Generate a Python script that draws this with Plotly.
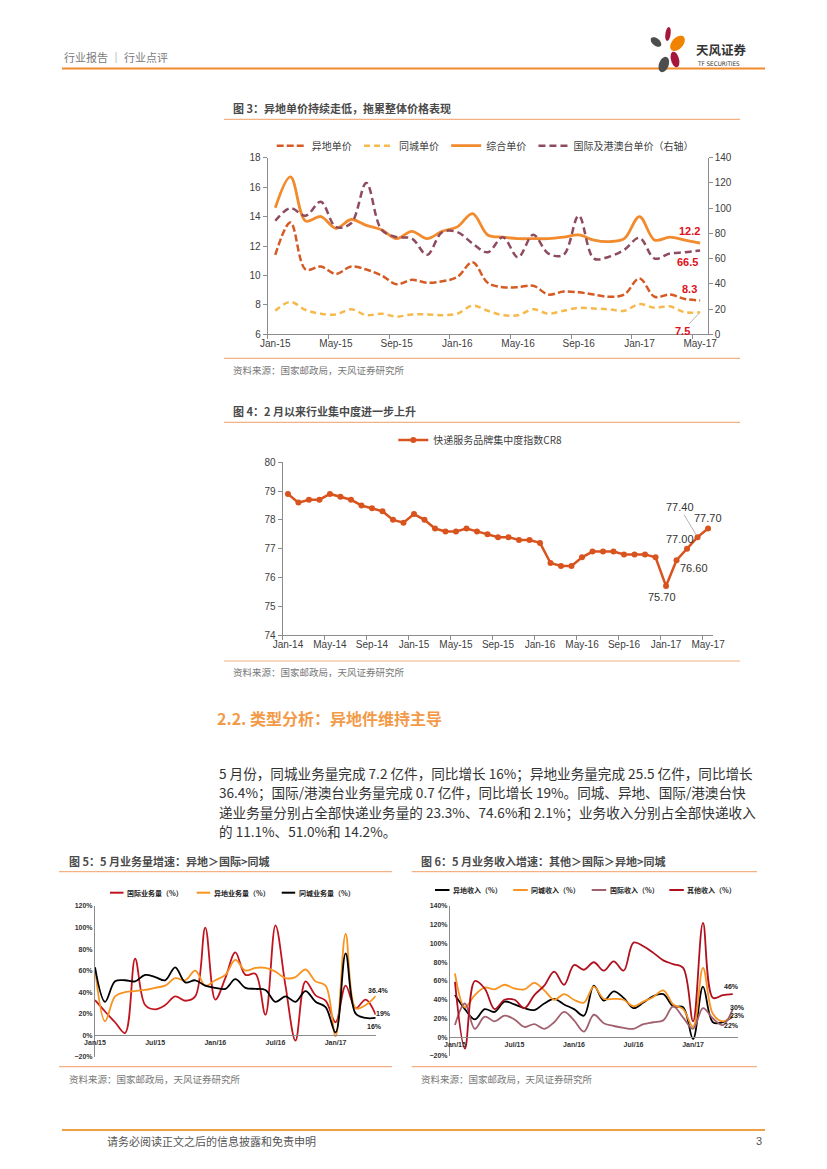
import math
import plotly.graph_objects as go

# the page body has an 8px default margin, so the figure is drawn 8px in from the window edge
OFF = 8
W, H = 827 - 2 * OFF, 1169 - 2 * OFF
def px(x): return (x - OFF) / W
def py(y): return 1 - (y - OFF) / H

MON = ["Jan", "Feb", "Mar", "Apr", "May", "Jun", "Jul", "Aug", "Sep", "Oct", "Nov", "Dec"]
def month_labels(start_year, n, sep):
    return [f"{MON[k % 12]}{sep}{(start_year + k // 12) % 100:02d}" for k in range(n)]

# ---------------- data ----------------
months3 = month_labels(2015, 29, "-")     # Jan-15 .. May-17
price_yidi = [11.4, 13.6, 10.4, 10.6, 10.1, 10.6, 10.4, 10.0, 9.4, 9.7, 9.5, 9.6, 9.9, 10.9, 9.5,
              9.2, 9.2, 9.3, 8.7, 8.9, 8.85, 8.7, 8.55, 8.7, 9.8, 8.55, 8.7, 8.4, 8.3]
price_tongcheng = [7.6, 8.2, 7.65, 7.4, 7.35, 7.7, 7.3, 7.4, 7.2, 7.35, 7.35, 7.3, 7.4, 7.95, 7.6,
                   7.3, 7.3, 7.7, 7.4, 7.6, 7.8, 7.75, 7.7, 7.6, 8.05, 7.8, 7.9, 7.5, 7.5]
price_zonghe = [14.6, 16.7, 13.7, 14.0, 13.2, 13.8, 13.4, 13.1, 12.5, 13.0, 12.5, 13.0, 13.3, 14.2, 12.75,
                12.6, 12.5, 12.5, 12.5, 12.6, 12.75, 12.4, 12.3, 12.5, 14.0, 12.4, 12.6, 12.4, 12.2]
price_intl = [90, 100, 94, 105, 85, 88, 120, 83, 77, 76, 63, 81, 81, 72, 65,
              77, 61, 79, 64, 63, 94, 60, 61.5, 67, 76.5, 60, 64, 65, 66.5]

months4 = month_labels(2014, 41, "-")     # Jan-14 .. May-17
cr8 = [78.9, 78.6, 78.7, 78.7, 78.9, 78.8, 78.7, 78.5, 78.4, 78.3, 78.0, 77.9,
       78.2, 78.0, 77.7, 77.6, 77.6, 77.7, 77.6, 77.5, 77.4, 77.4, 77.3, 77.3,
       77.2, 76.5, 76.4, 76.4, 76.7, 76.9, 76.9, 76.9, 76.8, 76.8, 76.8, 76.7,
       75.7, 76.6, 77.0, 77.4, 77.7]

months5 = month_labels(2015, 29, "/")     # Jan/15 .. May/17
vol_intl = [32.5, 22, 12, 2, 71, 28, 24, 28, 36, 32, 36, 100, 33, 53, 77, 56, 57, 19, 102, 46,
            -5, 50, 37, 32, 12, 46, 25, 33, 19]
vol_yidi = [63, 13, 36, 40, 41, 42, 44, 46, 53, 51, 60, 46, 51, 56, 70, 60, 62.5, 62.5, 59, 53,
            54, 61, 50, 46, -1, 94, 25, 28, 36.4]
vol_tongcheng = [63, 31, 50, 51, 50, 56, 54, 51, 63, 49, 51, 46, 44, 43, 52, 44, 43, 42, 31, 36,
                 31, 41, 31, 26, 2.5, 76, 20, 16, 16]

rev_yidi = [45, 30, 19, 30, 27, 38, 35, 31, 29, 36, 41, 35, 30, 23, 55, 39, 49, 42, 31, 37,
            44, 46, 33, 32, -2, 54, 16, 16, 22]
rev_tongcheng = [68, 32, 45, 53, 51, 56, 52, 51, 58, 50, 40, 46, 40, 37, 54, 41, 41, 40, 33, 38,
                 43, 50, 35, 30, 11, 74, 25, 17, 23]
rev_intl = [13, 36, 9, 22, 17, 23, 19, 11, 14, 9, 16, 27, 18, 6, 24, 15, 12, 10, 9, 14,
            16, 18, 33, 21, 9, 31, 20, 13, 30]
rev_other = [59, -12, 60, 52, 30, 40, 40, 31, 45, 55, 70, 56, 77, 72, 80, 71, 81, 71, 101, 97,
             90, 82, 78, 74, 17, 122, 42, 45, 46]

# ---------------- styles ----------------
FONT = "Liberation Sans, Arial, Noto Sans CJK SC"
CJK = "Noto Sans CJK SC, Liberation Sans"
AX = "#8c8c8c"
TXT = "#404040"
C3_YIDI, C3_TC, C3_ZH, C3_INTL = "#D65A24", "#F6B94C", "#F28A2E", "#8E4B5E"
C4 = "#D9531E"
C_RED, C_ORG, C_BLK, C_MAUVE, C_DRED = "#C0151F", "#F7931E", "#000000", "#A0606E", "#B0101E"
RULE = "#F4B183"
NB = "\u00a0"

fig = go.Figure()

def sp(color, width, dash="solid"):
    return dict(color=color, width=width, dash=dash, shape="spline", smoothing=1)

# chart 3
fig.add_trace(go.Scatter(x=months3, y=price_yidi, name="异地单价" + NB, mode="lines",
                         line=sp(C3_YIDI, 2.5, "7px,3px"), xaxis="x", yaxis="y", legend="legend"))
fig.add_trace(go.Scatter(x=months3, y=price_tongcheng, name="同城单价" + NB, mode="lines",
                         line=sp(C3_TC, 2.5, "6px,4px"), xaxis="x", yaxis="y", legend="legend"))
fig.add_trace(go.Scatter(x=months3, y=price_zonghe, name="综合单价" + NB, mode="lines",
                         line=sp(C3_ZH, 2.8), xaxis="x", yaxis="y", legend="legend"))
fig.add_trace(go.Scatter(x=months3, y=price_intl, name="国际及港澳台单价（右轴）", mode="lines",
                         line=sp(C3_INTL, 2.5, "7px,4px"), xaxis="x", yaxis="y2", legend="legend"))

# chart 4
fig.add_trace(go.Scatter(x=months4, y=cr8, name="快递服务品牌集中度指数CR8", mode="lines+markers",
                         line=dict(color=C4, width=2.5), marker=dict(size=6, color=C4),
                         xaxis="x2", yaxis="y3", legend="legend2"))

# chart 5
series5 = [("国际业务量（%）", vol_intl, C_RED), ("异地业务量（%）", vol_yidi, C_ORG),
           ("同城业务量（%）", vol_tongcheng, C_BLK)]
for name, vals, col in series5:
    fig.add_trace(go.Scatter(x=months5, y=vals, name=name, mode="lines", line=sp(col, 1.8),
                             xaxis="x3", yaxis="y4", showlegend=False))

# chart 6
series6 = [("异地收入（%）", rev_yidi, C_BLK), ("同城收入（%）", rev_tongcheng, C_ORG),
           ("国际收入（%）", rev_intl, C_MAUVE), ("其他收入（%）", rev_other, C_DRED)]
for name, vals, col in series6:
    fig.add_trace(go.Scatter(x=months5, y=vals, name=name, mode="lines", line=sp(col, 1.8),
                             xaxis="x4", yaxis="y5", showlegend=False))

tick10 = dict(family=FONT, size=10, color=TXT)
tick7 = dict(family=FONT, size=7, color="#333333", weight="bold")

def cat_axis(domain, anchor, dtick, rng, tf=tick10, **kw):
    d = dict(domain=domain, anchor=anchor, type="category", range=rng, tickmode="linear",
             tick0=0, dtick=dtick, showline=True, linecolor=AX, linewidth=1, showgrid=False,
             zeroline=False, tickfont=tf, fixedrange=True, tickangle=0, automargin=False)
    d.update(kw)
    return d

def val_axis(domain, anchor, rng, dtick, tf=tick10, **kw):
    d = dict(domain=domain, anchor=anchor, range=rng, dtick=dtick, showline=True, linecolor=AX,
             linewidth=1, showgrid=False, zeroline=False, ticks="outside", ticklen=4,
             tickcolor=AX, tickfont=tf, fixedrange=True, automargin=False)
    d.update(kw)
    return d

# chart 5/6 zero line positions
c5_top, c5_bot = 906, 1056.7
c6_top, c6_bot = 906, 1056
pos5 = py(c5_bot) + (0 - (-20)) / 140 * (py(c5_top) - py(c5_bot))
pos6 = py(c6_bot) + (0 - (-20)) / 160 * (py(c6_top) - py(c6_bot))

fig.update_layout(
    template="none",
    width=W, height=H, margin=dict(l=0, r=0, t=0, b=0, pad=0, autoexpand=False),
    font=dict(family=CJK, color=TXT),
    paper_bgcolor="white", plot_bgcolor="rgba(0,0,0,0)", showlegend=True, hovermode=False,
    xaxis=cat_axis([px(267.7), px(707.7)], "y", 4, [-0.5, 28.5],
                   ticks="outside", tickson="boundaries", ticklen=4, tickcolor=AX),
    yaxis=val_axis([py(334.3), py(157.7)], "x", [6, 18], 2),
    yaxis2=val_axis([py(334.3), py(157.7)], "x", [0, 140], 20, overlaying="y", side="right"),
    xaxis2=cat_axis([px(282.7), px(713.3)], "y3", 4, [-0.5, 40.5],
                    ticks="outside", tickson="boundaries", ticklen=4, tickcolor=AX),
    yaxis3=val_axis([py(635), py(462.3)], "x2", [74, 80], 1),
    xaxis3=cat_axis([px(95), px(375.7)], "free", 6, [0, 28], tf=tick7,
                    position=pos5, ticks=""),
    yaxis4=val_axis([py(c5_bot), py(c5_top)], "x3", [-20, 120], 20, tf=tick7,
                    ticksuffix="%", ticks="", ticklen=0),
    xaxis4=cat_axis([px(450), px(737.7)], "free", 6, [-0.5, 28.5], tf=tick7,
                    position=pos6, ticks=""),
    yaxis5=val_axis([py(c6_bot), py(c6_top)], "x4", [-20, 140], 20, tf=tick7,
                    ticksuffix="%", ticks="", ticklen=0),
    legend=dict(orientation="h", x=px(271.7), y=py(145.7), xanchor="left", yanchor="middle",
                font=dict(family=CJK, size=10, color=TXT), bgcolor="rgba(0,0,0,0)", borderwidth=0),
    legend2=dict(orientation="h", x=px(393.3), y=py(440), xanchor="left", yanchor="middle",
                 font=dict(family=CJK, size=10, color=TXT), bgcolor="rgba(0,0,0,0)", borderwidth=0),
)

ann = []
def text(x, y, s, size=10, color=TXT, bold=False, family=CJK, anchor="left"):
    ann.append(dict(xref="paper", yref="paper", x=px(x), y=py(y), text=(f"<b>{s}</b>" if bold else s),
                    showarrow=False, xanchor=anchor, yanchor="middle",
                    font=dict(family=family, size=size, color=color)))

# header / footer
text(62, 57, "行业报告 ｜ 行业点评", size=11, color="#7a7a7a")
text(694, 49, "天风证券", size=12.5, color="#333333", bold=True)
text(695, 63.5, "TF SECURITIES", size=6.3, color="#333333", family="DejaVu Sans Condensed, Liberation Sans")
text(105, 1141, "请务必阅读正文之后的信息披露和免责申明", size=11, color="#555555")
text(764, 1141, "3", size=11, color="#555555", anchor="right", family=FONT)

# chart titles / sources
text(231, 108, "图 3：异地单价持续走低，拖累整体价格表现", size=11, color="#4a4a4a", bold=True)
text(231, 370, "资料来源：国家邮政局，天风证券研究所", size=9.5, color="#777777")
text(231, 410.7, "图 4：2 月以来行业集中度进一步上升", size=11, color="#4a4a4a", bold=True)
text(231, 672.3, "资料来源：国家邮政局，天风证券研究所", size=9.5, color="#777777")
text(67, 860.7, "图 5：5 月业务量增速：异地＞国际>同城", size=11, color="#4a4a4a", bold=True)
text(67, 1079.3, "资料来源：国家邮政局，天风证券研究所", size=9.5, color="#777777")
text(419, 860.7, "图 6：5 月业务收入增速：其他＞国际＞异地>同城", size=11, color="#4a4a4a", bold=True)
text(419, 1079.3, "资料来源：国家邮政局，天风证券研究所", size=9.5, color="#777777")

# section
text(215, 718, "2.2. 类型分析：异地件维持主导", size=16, color="#F39A48", bold=True)
para = ["5 月份，同城业务量完成 7.2 亿件，同比增长 16%；异地业务量完成 25.5 亿件，同比增长",
        "36.4%；国际/港澳台业务量完成 0.7 亿件，同比增长 19%。同城、异地、国际/港澳台快",
        "递业务量分别占全部快递业务量的 23.3%、74.6%和 2.1%；业务收入分别占全部快递收入",
        "的 11.1%、51.0%和 14.2%。"]
for i, line in enumerate(para):
    text(217, 772.8 + i * 19.5, line, size=13.6, color="#333333")

shapes = []
def hline(x0, x1, y, color=RULE, width=1.2):
    shapes.append(dict(type="line", xref="paper", yref="paper", x0=px(x0), x1=px(x1),
                       y0=py(y), y1=py(y), line=dict(color=color, width=width)))

# small legends for charts 5 and 6 (swatch + label)
def mini_legend(series, starts, y, swatch=13.5):
    for (name, _, col), x0 in zip(series, starts):
        hline(x0, x0 + swatch, y, col, 2)
        ann.append(dict(xref="paper", yref="paper", x=px(x0 + swatch + 1.5), y=py(y), text=f"<b>{name}</b>",
                        showarrow=False, xanchor="left", yanchor="middle",
                        font=dict(family=CJK, size=7, color="#222222")))

mini_legend(series5, [110, 196.7, 281.7], 892.7)
mini_legend(series6, [435, 513.3, 591.7, 669.3], 890, swatch=14.5)

# data labels
def dlabel(xref, yref, x, y, s, dx, dy, color, size=11, bold=True, arrow=False, ax=0, ay=0):
    d = dict(xref=xref, yref=yref, x=x, y=y, text=(f"<b>{s}</b>" if bold else s),
             font=dict(family=FONT, size=size, color=color))
    if arrow:
        d.update(showarrow=True, arrowhead=0, arrowwidth=0.8, arrowcolor="#a0a0a0",
                 ax=ax, ay=ay, standoff=2)
    else:
        d.update(showarrow=False, xshift=dx, yshift=dy)
    ann.append(d)

RED = "#E0101A"
dlabel("x", "y", months3[-1], price_zonghe[-1], f"{price_zonghe[-1]}", -11, 12, RED)
dlabel("x", "y2", months3[-1], price_intl[-1], f"{price_intl[-1]}", -13, -12, RED)
dlabel("x", "y", months3[-1], price_yidi[-1], f"{price_yidi[-1]}", -11, 11.5, RED)
dlabel("x", "y", months3[-1], price_tongcheng[-1], f"{price_tongcheng[-1]}", 0, 0, RED,
       arrow=True, ax=-18, ay=19)

DK = "#333333"
dlabel("x2", "y3", months4[36], cr8[36], f"{cr8[36]:.2f}", -4, -11, DK, bold=False)
dlabel("x2", "y3", months4[37], cr8[37], f"{cr8[37]:.2f}", 17, -8, DK, bold=False)
dlabel("x2", "y3", months4[38], cr8[38], f"{cr8[38]:.2f}", -7, 10, DK, bold=False)
dlabel("x2", "y3", months4[39], cr8[39], f"{cr8[39]:.2f}", 0, 0, DK, bold=False,
       arrow=True, ax=-18, ay=-30)
dlabel("x2", "y3", months4[40], cr8[40], f"{cr8[40]:.2f}", 0, 11, DK, bold=False)

def pct(v): return f"{v:g}%"
dlabel("x3", "y4", months5[-1], vol_yidi[-1], pct(vol_yidi[-1]), 3, 5, "#222", size=7)
dlabel("x3", "y4", months5[-1], vol_intl[-1], pct(vol_intl[-1]), 8, 1, "#222", size=7)
dlabel("x3", "y4", months5[-1], vol_tongcheng[-1], pct(vol_tongcheng[-1]), -1, -9, "#222", size=7)
dlabel("x4", "y5", months5[-1], rev_other[-1], pct(rev_other[-1]), -1, 8, "#222", size=7)
dlabel("x4", "y5", months5[-1], rev_intl[-1], pct(rev_intl[-1]), 5, 2, "#222", size=7)
dlabel("x4", "y5", months5[-1], rev_tongcheng[-1], pct(rev_tongcheng[-1]), 4.5, 0, "#222", size=7)
dlabel("x4", "y5", months5[-1], rev_yidi[-1], pct(rev_yidi[-1]), -1, -9, "#222", size=7)

hline(62, 765, 68.5, "#F08A2C", 2)
hline(62, 765, 1130, "#F0A040", 2)
for y in (119.3, 358.3, 422.3, 661):
    hline(224, 740, y)
for y in (871.7, 1066.7):
    hline(59, 392, y)
    hline(411.7, 757, y)

def petal(cx, cy, rx, ry, ang, color):
    a = math.radians(ang)
    pts = []
    for k in range(24):
        t = 2 * math.pi * k / 24
        ex, ey = rx * math.cos(t), ry * math.sin(t)
        X = cx + ex * math.cos(a) - ey * math.sin(a)
        Y = cy + ex * math.sin(a) + ey * math.cos(a)
        pts.append(f"{px(X):.5f},{py(Y):.5f}")
    path = "M" + " L".join(pts) + " Z"
    shapes.append(dict(type="path", xref="paper", yref="paper", path=path,
                       fillcolor=color, line=dict(width=0)))

petal(656, 42, 6.2, 3.6, 40, "#4D4D4D")
petal(668, 34, 2.6, 7, 8, "#A5173A")
petal(677.5, 43.3, 9, 5.6, -48, "#F08300")
petal(675, 59.5, 4, 8, -15, "#A5173A")
petal(663.8, 64.5, 4.8, 8, 20, "#4D4D4D")

fig.update_layout(annotations=ann, shapes=shapes)
fig.write_html("out.html")
